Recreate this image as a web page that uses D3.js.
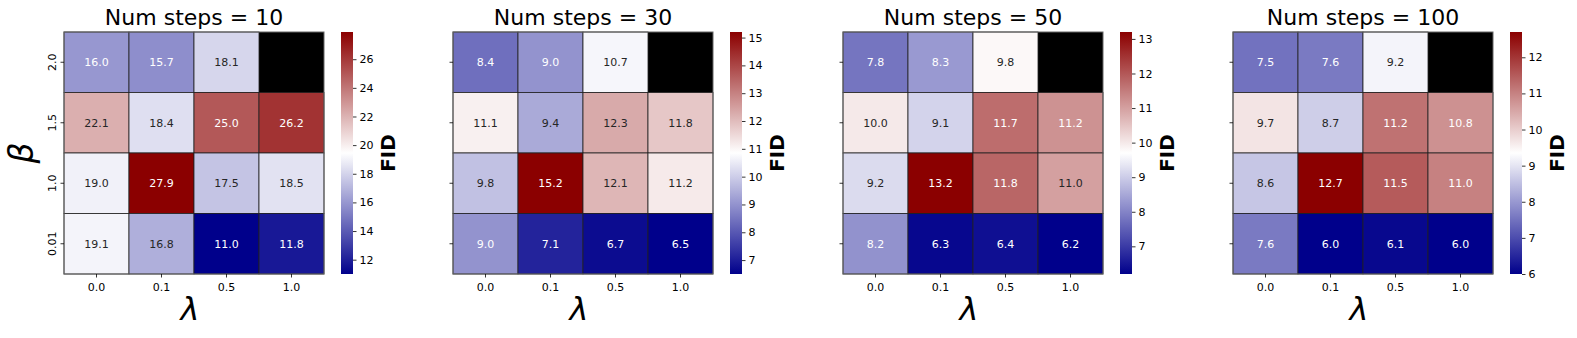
<!DOCTYPE html>
<html>
<head>
<meta charset="utf-8">
<script src="https://cdn.jsdelivr.net/npm/d3@7"></script>
<style>
  html, body { margin: 0; padding: 0; background: #fff; }
  svg { display: block; font-family: "DejaVu Sans", sans-serif; }
</style>
</head>
<body>
<svg id="chart" width="1577" height="338"></svg>
<script>
// ---- data ----
const lambdas = ["0.0", "0.1", "0.5", "1.0"];
const betas = ["2.0", "1.5", "1.0", "0.01"];
const titles = ["Num steps = 10", "Num steps = 30", "Num steps = 50", "Num steps = 100"];
const steps10 = [
  [16.0, 15.7, 18.1, null],
  [22.1, 18.4, 25.0, 26.2],
  [19.0, 27.9, 17.5, 18.5],
  [19.1, 16.8, 11.0, 11.8]
];
const steps30 = [
  [8.4, 9.0, 10.7, null],
  [11.1, 9.4, 12.3, 11.8],
  [9.8, 15.2, 12.1, 11.2],
  [9.0, 7.1, 6.7, 6.5]
];
const steps50 = [
  [7.8, 8.3, 9.8, null],
  [10.0, 9.1, 11.7, 11.2],
  [9.2, 13.2, 11.8, 11.0],
  [8.2, 6.3, 6.4, 6.2]
];
const steps100 = [
  [7.5, 7.6, 9.2, null],
  [9.7, 8.7, 11.2, 10.8],
  [8.6, 12.7, 11.5, 11.0],
  [7.6, 6.0, 6.1, 6.0]
];
const colorbarTicks10 = [12, 14, 16, 18, 20, 22, 24, 26];
const colorbarTicks30 = [7, 8, 9, 10, 11, 12, 13, 14, 15];
const colorbarTicks50 = [7, 8, 9, 10, 11, 12, 13];
const colorbarTicks100 = [6, 7, 8, 9, 10, 11, 12];

const panels = [
  { title: titles[0], data: steps10, ticks: colorbarTicks10 },
  { title: titles[1], data: steps30, ticks: colorbarTicks30 },
  { title: titles[2], data: steps50, ticks: colorbarTicks50 },
  { title: titles[3], data: steps100, ticks: colorbarTicks100 }
];

// ---- layout ----
const svg = d3.select("#chart");
const lefts = [64, 453, 843, 1233];
const topY = 32, W = 260, H = 242;
const cbOffset = 277, cbW = 12;

function luminance(c) {
  const rgb = d3.rgb(c);
  const f = v => { v /= 255; return v <= 0.03928 ? v / 12.92 : Math.pow((v + 0.055) / 1.055, 2.4); };
  return 0.2126 * f(rgb.r) + 0.7152 * f(rgb.g) + 0.0722 * f(rgb.b);
}

const defs = svg.append("defs");

panels.forEach((p, i) => {
  const left = lefts[i];
  const g = svg.append("g").attr("transform", `translate(${left},${topY})`);
  const vals = p.data.flat().filter(v => v != null);
  const vmin = d3.min(vals), vmax = d3.max(vals);
  const color = d3.scaleLinear()
    .domain([vmin, (vmin + vmax) / 2, vmax])
    .range(["#00008b", "#ffffff", "#8b0000"])
    .interpolate(d3.interpolateRgb)
    .clamp(true);

  const x = d3.scaleBand().domain(lambdas).range([0, W]);
  const y = d3.scaleBand().domain(betas).range([0, H]);

  const cells = [];
  p.data.forEach((row, r) => row.forEach((v, c) => cells.push({ b: betas[r], l: lambdas[c], v })));

  // background (NaN shows black)
  g.append("rect").attr("width", W).attr("height", H).attr("fill", "#000");

  g.selectAll("rect.cell").data(cells.filter(d => d.v != null)).join("rect")
    .attr("class", "cell")
    .attr("x", d => x(d.l)).attr("y", d => y(d.b))
    .attr("width", x.bandwidth()).attr("height", y.bandwidth())
    .attr("fill", d => color(d.v))
    .attr("stroke", "#222").attr("stroke-width", 0.8);

  g.append("rect").attr("width", W).attr("height", H)
    .attr("fill", "none").attr("stroke", "#666").attr("stroke-width", 1);

  g.selectAll("text.ann").data(cells.filter(d => d.v != null)).join("text")
    .attr("class", "ann")
    .attr("x", d => x(d.l) + x.bandwidth() / 2)
    .attr("y", d => y(d.b) + y.bandwidth() / 2)
    .attr("dy", "0.35em")
    .attr("text-anchor", "middle")
    .attr("font-size", 11)
    .attr("fill", d => luminance(color(d.v)) > 0.408 ? "#262626" : "#ffffff")
    .text(d => d.v.toFixed(1));

  // x axis
  const xAxis = g.append("g").attr("transform", `translate(0,${H})`)
    .call(d3.axisBottom(x).tickSize(3.5).tickPadding(5.5));
  xAxis.select(".domain").remove();
  xAxis.selectAll("text").attr("font-size", 11).attr("font-family", "DejaVu Sans").attr("fill", "#000");
  xAxis.selectAll("line").attr("stroke", "#000").attr("stroke-width", 0.8);

  // y axis
  const yAxis = g.append("g").call(d3.axisLeft(y).tickSize(3.5).tickPadding(3));
  yAxis.select(".domain").remove();
  yAxis.selectAll("line").attr("stroke", "#000").attr("stroke-width", 0.8);
  if (i === 0) {
    yAxis.selectAll("text")
      .attr("font-size", 11).attr("font-family", "DejaVu Sans").attr("fill", "#000")
      .attr("x", null).attr("dy", null)
      .attr("text-anchor", "middle")
      .attr("transform", "translate(-8,0) rotate(-90)")
      .attr("y", 0);
  } else {
    yAxis.selectAll("text").remove();
  }

  // title
  g.append("text").attr("x", W / 2).attr("y", -7)
    .attr("text-anchor", "middle").attr("font-size", 22).attr("fill", "#000")
    .text(p.title);

  // lambda label
  g.append("text").attr("x", W / 2 - 4).attr("y", 288)
    .attr("text-anchor", "middle").attr("font-size", 32).attr("font-style", "italic")
    .attr("fill", "#000").text("λ");

  if (i === 0) {
    g.append("text").attr("transform", `translate(${-31},${H / 2}) rotate(-90)`)
      .attr("text-anchor", "middle").attr("font-size", 33).attr("font-style", "italic")
      .attr("fill", "#000").text("β");
  }

  // colorbar
  const gid = "grad" + i;
  const grad = defs.append("linearGradient").attr("id", gid)
    .attr("x1", 0).attr("y1", 1).attr("x2", 0).attr("y2", 0);
  d3.range(0, 1.0001, 0.05).forEach(t => {
    grad.append("stop").attr("offset", t).attr("stop-color", color(vmin + t * (vmax - vmin)));
  });
  const cb = svg.append("g").attr("transform", `translate(${left + cbOffset},${topY})`);
  cb.append("rect").attr("width", cbW).attr("height", H).attr("fill", `url(#${gid})`);
  const cs = d3.scaleLinear().domain([vmin, vmax]).range([H, 0]);
  const cAxis = cb.append("g").attr("transform", `translate(${cbW},0)`)
    .call(d3.axisRight(cs).tickValues(p.ticks).tickSize(3.5).tickPadding(3).tickFormat(d3.format("d")));
  cAxis.select(".domain").remove();
  cAxis.selectAll("text").attr("font-size", 11).attr("font-family", "DejaVu Sans").attr("fill", "#000");
  cAxis.selectAll("line").attr("stroke", "#000").attr("stroke-width", 0.8);

  svg.append("text")
    .attr("transform", `translate(${left + 324 + 7},${topY + H / 2}) rotate(-90)`)
    .attr("text-anchor", "middle").attr("font-size", 20).attr("font-weight", "bold")
    .attr("fill", "#000").text("FID");
});
</script>
</body>
</html>
